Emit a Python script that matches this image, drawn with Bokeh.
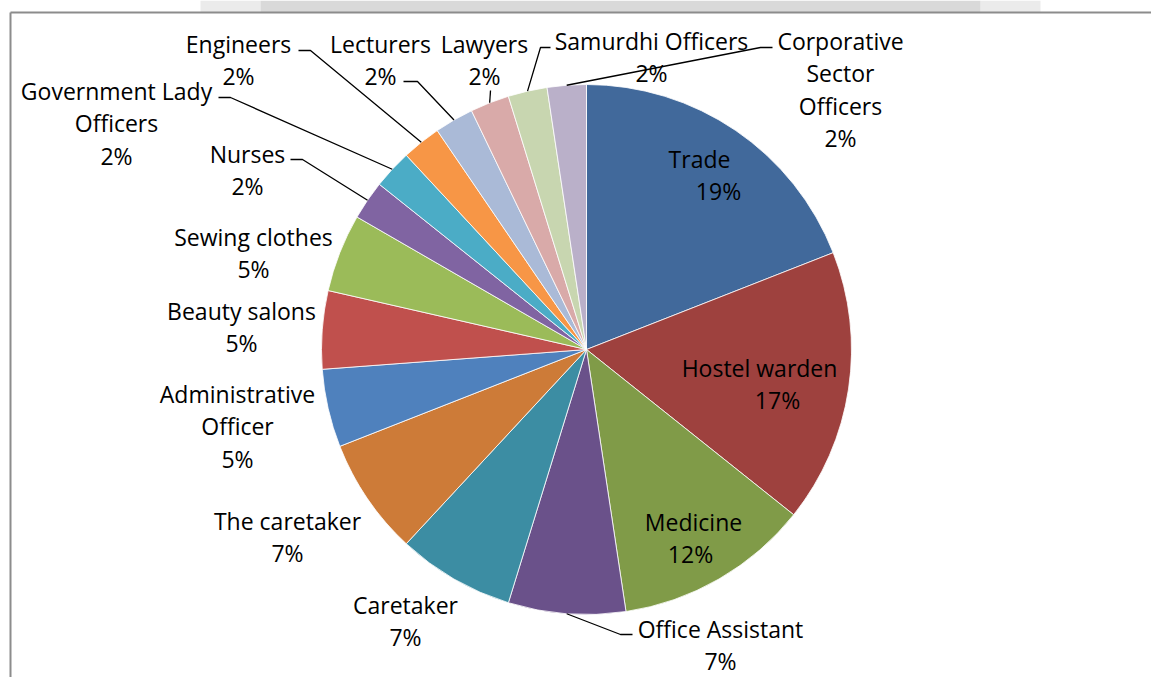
import math
from bokeh.plotting import figure
from bokeh.models import ColumnDataSource, Range1d
from bokeh.embed import file_html
from bokeh.resources import INLINE
from bokeh.core.properties import value

# ---------------- data ----------------
categories = ["Trade", "Hostel warden", "Medicine", "Office Assistant", "Caretaker",
              "The caretaker", "Administrative Officer", "Beauty salons", "Sewing clothes",
              "Nurses", "Government Lady Officers", "Engineers", "Lecturers", "Lawyers",
              "Samurdhi Officers", "Corporative Sector Officers"]
counts = [8, 7, 5, 3, 3, 3, 2, 2, 2, 1, 1, 1, 1, 1, 1, 1]
colors = ["#41699B", "#9E413E", "#809B48", "#6A518A", "#3C8DA3", "#CD7B38", "#4F81BD",
          "#C0504D", "#9BBB59", "#8064A2", "#4BACC6", "#F79646", "#AABAD7", "#D9AAA9",
          "#C8D6B0", "#BAB0C9"]
name_lines = [["Trade"], ["Hostel warden"], ["Medicine"], ["Office Assistant"], ["Caretaker"],
              ["The caretaker"], ["Administrative", "Officer"], ["Beauty salons"],
              ["Sewing clothes"], ["Nurses"], ["Government Lady", "Officers"], ["Engineers"],
              ["Lecturers"], ["Lawyers"], ["Samurdhi Officers"], ["Corporative", "Sector", "Officers"]]

# ---------------- layout (style / placement only) ----------------
W, H = 1151, 677
CX, CY, R = 586, 328, 265
LINE_GAP = 32.5
FONT = value("Open Sans")
FSIZE = "23px"
# first-line centre offset from pie centre (dx, dy up), and x shift of the percent line
label_pos = [(113, 191, 19), (173, -18, 18), (107, -172, -3), (134, -279, 0),
             (-181, -255, 0), (-299, -171, 0), (-349, -44, 0), (-345, 39, 0),
             (-333, 113, 0), (-339, 196, 0), (-470, 259, 0), (-348, 306, 0),
             (-206, 306, 0), (-102, 306, 0), (65, 309, 0), (254, 309, 0)]
# leader line elbow points (offsets from pie centre), None = no leader
leaders = [None, None, None, [(46, -285), (34, -285)], None, None, None, None, None,
           [(-296, 190), (-284, 190)], [(-368, 252), (-356, 252)],
           [(-288, 299), (-276, 299)], [(-183, 268), (-169, 268)], [(-96, 259)],
           [(-36, 302), (-46, 302)], [(186, 302), (174, 302)]]

total = float(sum(counts))
starts, ends, mids = [], [], []
cum = 0.0
for c in counts:
    a0 = math.pi / 2 - 2 * math.pi * cum / total
    a1 = math.pi / 2 - 2 * math.pi * (cum + c) / total
    starts.append(a0)
    ends.append(a1)
    mids.append((a0 + a1) / 2)
    cum += c
pcts = ["%d%%" % round(100 * c / total) for c in counts]

p = figure(width=W, height=H, x_range=Range1d(0, W), y_range=Range1d(0, H),
           output_backend="svg", toolbar_location=None, x_axis_type=None, y_axis_type=None,
           min_border=0, outline_line_color=None, background_fill_color="white",
           border_fill_color="white")

# frame decoration (grey page band above the chart border)
p.quad(left=[200, 980], right=[260, 1040], bottom=[H - 12, H - 12], top=[H, H],
       fill_color="#EBEBEB", line_color=None)
p.quad(left=[260], right=[980], bottom=[H - 12], top=[H], fill_color="#D9D9D9", line_color=None)
p.segment(x0=[10, 10], y0=[0, H - 12], x1=[10, W], y1=[H - 12, H - 12],
          line_color="#8C8C8C", line_width=2)

src = ColumnDataSource(dict(cat=categories, start=starts, end=ends, color=colors))
p.wedge(x=CX, y=CY, radius=R, start_angle="start", end_angle="end", direction="clock",
        fill_color="color", line_color="white", line_width=0.8, source=src)

# leader lines
xs, ys = [], []
for i, pts in enumerate(leaders):
    if pts is None:
        continue
    ex = CX + R * math.cos(mids[i])
    ey = CY + R * math.sin(mids[i])
    xs.append([CX + dx for dx, dy in pts] + [ex])
    ys.append([CY + dy for dx, dy in pts] + [ey])
p.multi_line(xs=xs, ys=ys, line_color="black", line_width=1.3)

# labels
tx, ty, tt = [], [], []
for i, lines in enumerate(name_lines):
    dx, dy, pdx = label_pos[i]
    for k, ln in enumerate(lines):
        tx.append(CX + dx)
        ty.append(CY + dy - k * LINE_GAP)
        tt.append(ln)
    tx.append(CX + dx + pdx)
    ty.append(CY + dy - len(lines) * LINE_GAP)
    tt.append(pcts[i])
p.text(x=tx, y=ty, text=tt, text_align="center", text_baseline="middle",
       text_font=FONT, text_font_size=FSIZE, text_color="black")

open("out.html", "w").write(file_html(p, INLINE))
